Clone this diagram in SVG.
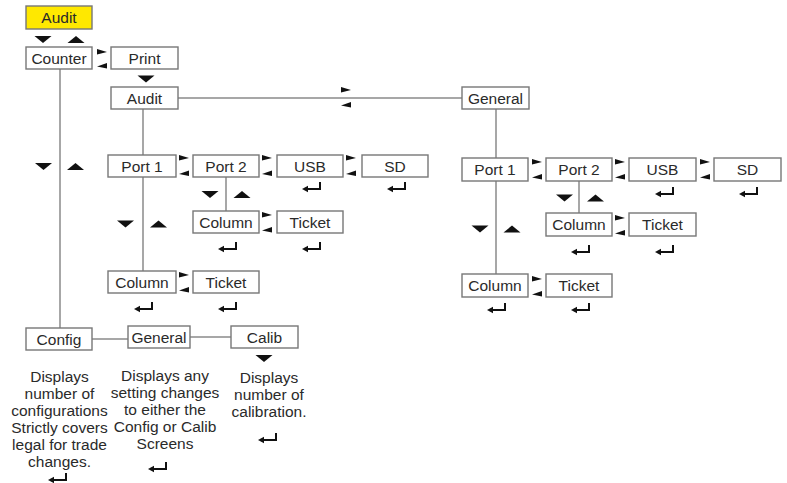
<svg xmlns="http://www.w3.org/2000/svg" xmlns:xlink="http://www.w3.org/1999/xlink" width="787" height="483" viewBox="0 0 787 483">
<defs>
<style>
.box{fill:#ffffff;stroke:#777777;stroke-width:1.4}
.hl{fill:#ffe800;stroke:#777777;stroke-width:1.4}
.lbl{font-family:"Liberation Sans",Arial,sans-serif;font-size:15.5px;fill:#2a2a2a;text-anchor:middle}
.desc{font-family:"Liberation Sans",Arial,sans-serif;font-size:15.5px;fill:#2a2a2a;text-anchor:middle}
.ln{stroke:#8a8a8a;stroke-width:1.5;fill:none}
.tri{fill:#111111}
</style>
<polygon id="dn" class="tri" points="0,0 17,0 8.5,7"/>
<polygon id="up" class="tri" points="0,7 17,7 8.5,0"/>
<polygon id="ra" class="tri" points="0,0 10,3 0,5.5"/>
<polygon id="la" class="tri" points="10,0 0,3.5 10,5.5"/>
<g id="enter">
<path d="M4,7 H18 V0" fill="none" stroke="#111111" stroke-width="2"/>
<polygon points="0,7 6,3.8 6,10.2" fill="#111111"/>
</g>
</defs>
<rect width="787" height="483" fill="#ffffff"/>

<g id="connectors">
<line class="ln" x1="60" y1="69" x2="60" y2="328"/>
<line class="ln" x1="178" y1="98" x2="462" y2="98"/>
<line class="ln" x1="143" y1="109" x2="143" y2="155"/>
<line class="ln" x1="143" y1="177" x2="143" y2="271"/>
<line class="ln" x1="226" y1="177" x2="226" y2="211"/>
<line class="ln" x1="496" y1="109" x2="496" y2="158"/>
<line class="ln" x1="496" y1="181" x2="496" y2="274"/>
<line class="ln" x1="579" y1="181" x2="579" y2="213"/>
<line class="ln" x1="92" y1="339" x2="128" y2="339"/>
<line class="ln" x1="190" y1="337" x2="231" y2="337"/>
</g>

<g id="nav-arrows">
<use xlink:href="#dn" x="34.5" y="36"/>
<use xlink:href="#up" x="67.5" y="36"/>
<use xlink:href="#ra" x="97" y="49"/>
<use xlink:href="#la" x="97" y="63"/>
<use xlink:href="#dn" x="137.5" y="75.5"/>
<use xlink:href="#ra" x="341" y="87"/>
<use xlink:href="#la" x="341" y="102"/>
<use xlink:href="#dn" x="35" y="163"/>
<use xlink:href="#up" x="67" y="163"/>
<use xlink:href="#ra" x="179" y="155"/>
<use xlink:href="#la" x="179" y="170.5"/>
<use xlink:href="#ra" x="262" y="155"/>
<use xlink:href="#la" x="262" y="170.5"/>
<use xlink:href="#ra" x="346" y="155"/>
<use xlink:href="#la" x="346" y="170.5"/>
<use xlink:href="#dn" x="201.5" y="191"/>
<use xlink:href="#up" x="233.5" y="191"/>
<use xlink:href="#ra" x="262" y="212"/>
<use xlink:href="#la" x="262" y="227"/>
<use xlink:href="#dn" x="117" y="220.5"/>
<use xlink:href="#up" x="150" y="220.5"/>
<use xlink:href="#ra" x="179" y="272"/>
<use xlink:href="#la" x="179" y="287"/>
<use xlink:href="#ra" x="532" y="159"/>
<use xlink:href="#la" x="532" y="174"/>
<use xlink:href="#ra" x="615" y="159"/>
<use xlink:href="#la" x="615" y="174"/>
<use xlink:href="#ra" x="700" y="159"/>
<use xlink:href="#la" x="700" y="174"/>
<use xlink:href="#dn" x="556" y="194.5"/>
<use xlink:href="#up" x="587" y="194.5"/>
<use xlink:href="#ra" x="615" y="215"/>
<use xlink:href="#la" x="615" y="230"/>
<use xlink:href="#dn" x="471.5" y="225.5"/>
<use xlink:href="#up" x="503.5" y="225.5"/>
<use xlink:href="#ra" x="532" y="276"/>
<use xlink:href="#la" x="532" y="291"/>
<use xlink:href="#dn" x="255.5" y="355"/>
</g>

<g id="enter-keys">
<use xlink:href="#enter" x="302" y="182"/>
<use xlink:href="#enter" x="387" y="182"/>
<use xlink:href="#enter" x="218" y="242"/>
<use xlink:href="#enter" x="302" y="242"/>
<use xlink:href="#enter" x="134" y="302"/>
<use xlink:href="#enter" x="218" y="302"/>
<use xlink:href="#enter" x="655" y="187"/>
<use xlink:href="#enter" x="739" y="187"/>
<use xlink:href="#enter" x="571" y="245"/>
<use xlink:href="#enter" x="655" y="245"/>
<use xlink:href="#enter" x="487" y="303"/>
<use xlink:href="#enter" x="571" y="303"/>
<use xlink:href="#enter" x="48" y="473"/>
<use xlink:href="#enter" x="148" y="462"/>
<use xlink:href="#enter" x="258" y="433"/>
</g>

<g id="n-audit-top"><rect class="hl" x="26" y="6" width="66" height="23"/><text class="lbl" x="59" y="23">Audit</text></g>
<g id="n-counter"><rect class="box" x="26" y="47" width="66" height="22"/><text class="lbl" x="59" y="63.5">Counter</text></g>
<g id="n-print"><rect class="box" x="111" y="47" width="67" height="22"/><text class="lbl" x="144.5" y="63.5">Print</text></g>
<g id="n-audit"><rect class="box" x="111" y="87" width="67" height="22"/><text class="lbl" x="144.5" y="103.5">Audit</text></g>
<g id="n-general"><rect class="box" x="462" y="87" width="67" height="22"/><text class="lbl" x="495.5" y="103.5">General</text></g>

<g id="n-a-port1"><rect class="box" x="108" y="155" width="68" height="22"/><text class="lbl" x="142" y="171.5">Port 1</text></g>
<g id="n-a-port2"><rect class="box" x="193" y="155" width="66" height="22"/><text class="lbl" x="226" y="171.5">Port 2</text></g>
<g id="n-a-usb"><rect class="box" x="277" y="155" width="66" height="22"/><text class="lbl" x="310" y="171.5">USB</text></g>
<g id="n-a-sd"><rect class="box" x="362" y="155" width="66" height="22"/><text class="lbl" x="395" y="171.5">SD</text></g>
<g id="n-a-p2-column"><rect class="box" x="193" y="211" width="66" height="22"/><text class="lbl" x="226" y="227.5">Column</text></g>
<g id="n-a-p2-ticket"><rect class="box" x="277" y="211" width="66" height="22"/><text class="lbl" x="310" y="227.5">Ticket</text></g>
<g id="n-a-p1-column"><rect class="box" x="108" y="271" width="68" height="22"/><text class="lbl" x="142" y="287.5">Column</text></g>
<g id="n-a-p1-ticket"><rect class="box" x="193" y="271" width="66" height="22"/><text class="lbl" x="226" y="287.5">Ticket</text></g>

<g id="n-g-port1"><rect class="box" x="462" y="158" width="66" height="23"/><text class="lbl" x="495" y="175">Port 1</text></g>
<g id="n-g-port2"><rect class="box" x="546" y="158" width="66" height="23"/><text class="lbl" x="579" y="175">Port 2</text></g>
<g id="n-g-usb"><rect class="box" x="629" y="158" width="67" height="23"/><text class="lbl" x="662.5" y="175">USB</text></g>
<g id="n-g-sd"><rect class="box" x="714" y="158" width="67" height="23"/><text class="lbl" x="747.5" y="175">SD</text></g>
<g id="n-g-p2-column"><rect class="box" x="546" y="213" width="66" height="23"/><text class="lbl" x="579" y="230">Column</text></g>
<g id="n-g-p2-ticket"><rect class="box" x="629" y="213" width="67" height="23"/><text class="lbl" x="662.5" y="230">Ticket</text></g>
<g id="n-g-p1-column"><rect class="box" x="462" y="274" width="66" height="23"/><text class="lbl" x="495" y="291">Column</text></g>
<g id="n-g-p1-ticket"><rect class="box" x="546" y="274" width="66" height="23"/><text class="lbl" x="579" y="291">Ticket</text></g>

<g id="n-config"><rect class="box" x="26" y="328" width="66" height="22"/><text class="lbl" x="59" y="344.5">Config</text></g>
<g id="n-general2"><rect class="box" x="128" y="326" width="62" height="22"/><text class="lbl" x="159" y="342.5">General</text></g>
<g id="n-calib"><rect class="box" x="231" y="326" width="67" height="22"/><text class="lbl" x="264.5" y="342.5">Calib</text></g>

<g id="desc-config">
<text class="desc" x="59.5" y="382">Displays</text>
<text class="desc" x="59.5" y="399">number of</text>
<text class="desc" x="59.5" y="416">configurations</text>
<text class="desc" x="59.5" y="433">Strictly covers</text>
<text class="desc" x="59.5" y="450">legal for trade</text>
<text class="desc" x="59.5" y="467">changes.</text>
</g>
<g id="desc-general">
<text class="desc" x="165" y="381">Displays any</text>
<text class="desc" x="165" y="398">setting changes</text>
<text class="desc" x="165" y="415">to either the</text>
<text class="desc" x="165" y="432">Config or Calib</text>
<text class="desc" x="165" y="449">Screens</text>
</g>
<g id="desc-calib">
<text class="desc" x="269" y="383">Displays</text>
<text class="desc" x="269" y="400">number of</text>
<text class="desc" x="269" y="417">calibration.</text>
</g>
</svg>
